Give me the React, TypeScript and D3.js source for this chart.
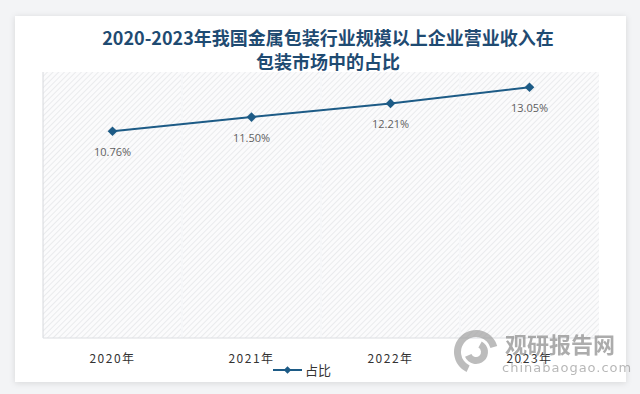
import React from 'react';
import * as d3 from 'd3';

const years = ['2020年', '2021年', '2022年', '2023年'];
const shares = [10.76, 11.5, 12.21, 13.05];
const seriesName = '占比';
const titleLines = ['2020-2023年我国金属包装行业规模以上企业营业收入在', '包装市场中的占比'];

const W = 640;
const H = 394;
const plot = { left: 43, right: 599, top: 72, bottom: 338 };
const lineColor = '#1d5b86';
const cjk = '"Noto Sans CJK SC", "Noto Sans", sans-serif';

const App: React.FC = () => {
  const x = d3.scaleBand<string>().domain(years).range([plot.left, plot.right]);
  const y = d3.scaleLinear().domain([0, 14]).range([plot.bottom, 69]);

  const pts = years.map((yr, i) => [x(yr)! + x.bandwidth() / 2, y(shares[i])] as [number, number]);
  const line = d3.line<[number, number]>().x(d => d[0]).y(d => d[1]);
  const diamond = d3.symbol().type(d3.symbolDiamond2).size(60)();

  // swirl logo for the watermark
  const arc = d3.arc();
  const logoArcs = [
    arc({ innerRadius: 15, outerRadius: 22, startAngle: -2.7, endAngle: 1.3 }),
    arc({ innerRadius: 5, outerRadius: 12, startAngle: 0.5, endAngle: 4.3 }),
  ];

  return (
    <svg width={W} height={H} style={{ position: 'absolute', left: 0, top: 0 }}>
      <defs>
        <pattern id="hatch" width="4" height="4" patternUnits="userSpaceOnUse" patternTransform="rotate(45)">
          <rect width="4" height="4" fill="#fbfbfc" />
          <line x1="0" y1="0" x2="0" y2="4" stroke="#e0e1e4" strokeWidth="1.2" />
        </pattern>
        <filter id="shadow" x="-5%" y="-5%" width="110%" height="110%">
          <feDropShadow dx="0" dy="1" stdDeviation="3" floodColor="#000" floodOpacity="0.12" />
        </filter>
      </defs>
      <rect width={W} height={H} fill="#f3f4f6" />
      <rect x={15} y={16} width={611} height={366} fill="#fff" filter="url(#shadow)" />

      {titleLines.map((t, i) => (
        <text key={i} x={328} y={45 + i * 24} textAnchor="middle" fontFamily={cjk} fontWeight="bold"
          fontSize={18} fill="#1f4b72">{t}</text>
      ))}

      <rect x={plot.left} y={plot.top} width={plot.right - plot.left} height={plot.bottom - plot.top}
        fill="url(#hatch)" />
      {x.domain().slice(1).map(yr => (
        <line key={yr} x1={x(yr)} x2={x(yr)} y1={plot.top} y2={plot.bottom} stroke="#f6f7f9" strokeWidth={2} />
      ))}
      <line x1={plot.left} x2={plot.left} y1={plot.top} y2={plot.bottom} stroke="#d6d8dc" />
      <line x1={plot.left} x2={plot.right} y1={plot.bottom} y2={plot.bottom} stroke="#dcdee2" />

      <path d={line(pts)!} fill="none" stroke={lineColor} strokeWidth={2} />
      {pts.map((p, i) => (
        <g key={i}>
          <path d={diamond!} transform={`translate(${p[0]},${p[1]})`} fill={lineColor} />
          <text x={p[0]} y={p[1] + 25} textAnchor="middle" fontFamily='"Open Sans", sans-serif'
            fontSize={11} fill="#606060">{shares[i].toFixed(2)}%</text>
        </g>
      ))}

      {years.map(yr => (
        <text key={yr} x={x(yr)! + x.bandwidth() / 2} y={363} textAnchor="middle" fontFamily={cjk}
          fontSize={12} letterSpacing={1.5} fill="#333">{yr}</text>
      ))}

      <g>
        <line x1={273} x2={302} y1={370} y2={370} stroke={lineColor} strokeWidth={2} />
        <path d={d3.symbol().type(d3.symbolDiamond2).size(36)()!} transform="translate(287.5,370)" fill={lineColor} />
        <text x={305} y={375} fontFamily={cjk} fontSize={13} fill="#333">{seriesName}</text>
      </g>

      <g opacity={0.7}>
        <g transform="translate(476,352)" fill="#a0a0a0">
          {logoArcs.map((d, i) => <path key={i} d={d!} />)}
        </g>
        <text x={505} y={353} fontFamily={cjk} fontWeight="bold" fontSize={22} fill="#8a8a8a">观研报告网</text>
        <text x={502} y={372} fontFamily='"DejaVu Sans", sans-serif' fontSize={13} fill="#9a9a9a"
          letterSpacing={1}>chinabaogao.com</text>
      </g>
    </svg>
  );
};

export default App;
